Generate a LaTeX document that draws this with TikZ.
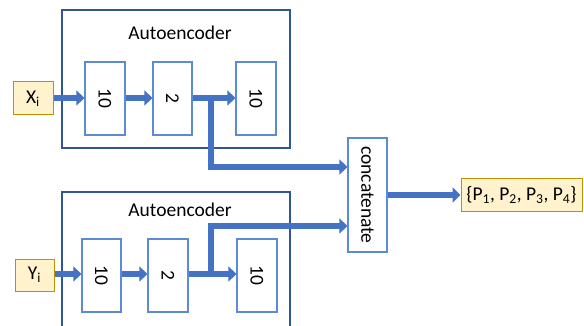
\documentclass[tikz,border=0pt]{standalone}
\usepackage{fontspec}
\setmainfont{Carlito}
\usetikzlibrary{arrows.meta}
\definecolor{arrowblue}{HTML}{4472C4}
\definecolor{outerblue}{HTML}{2F5597}
\definecolor{innerblue}{HTML}{5B8BD6}
\definecolor{yfill}{HTML}{FFF2CC}
\definecolor{ydraw}{HTML}{BF9000}
\tikzset{
  outerbox/.style={draw=outerblue, line width=1.3pt, fill=none, inner sep=0pt},
  layerbox/.style={draw=innerblue, line width=1.2pt, fill=white, minimum width=39pt, minimum height=73pt, inner sep=0pt, font=\fontsize{19.5}{23}\selectfont},
  iobox/.style={draw=ydraw, line width=1pt, fill=yfill, minimum height=32pt, inner sep=0pt, font=\fontsize{19.5}{23}\selectfont},
  lbl/.style={font=\fontsize{19.5}{23}\selectfont, inner sep=0pt},
  flow/.style={draw=arrowblue, line width=6pt, -{Triangle[length=8pt,width=15pt]}},
}
\begin{document}
\begin{tikzpicture}[x=1pt,y=-1pt]
\useasboundingbox (0,0) rectangle (584,326);
\clip (0,0) rectangle (584,326);
% top autoencoder
\node[outerbox, minimum width=228pt, minimum height=138pt] (ae1) at (176,79) {};
\node[lbl] (ae1t) at (180,33) {Autoencoder};
\node[layerbox, minimum width=40pt] (a1) at (105,98.5) {\rotatebox{-90}{10}};
\node[layerbox] (a2) at (172.5,98.5) {\rotatebox{-90}{2}};
\node[layerbox, minimum width=40pt] (a3) at (256,98.5) {\rotatebox{-90}{10}};
\node[iobox, minimum width=40pt, minimum height=33pt] (xi) at (33,98.5) {X\textsubscript{i}};
% bottom autoencoder
\node[outerbox, minimum width=228pt, minimum height=160pt] (ae2) at (176,272) {};
\node[lbl] (ae2t) at (180,210) {Autoencoder};
\node[layerbox] (b1) at (101.5,275.5) {\rotatebox{-90}{10}};
\node[layerbox, minimum width=40pt] (b2) at (168,275.5) {\rotatebox{-90}{2}};
\node[layerbox, minimum width=40pt] (b3) at (257,275.5) {\rotatebox{-90}{10}};
\node[iobox, minimum width=39pt] (yi) at (34.5,275) {Y\textsubscript{i}};
% concatenate and output
\node[layerbox, minimum width=39pt, minimum height=114pt] (cat) at (367.5,195) {\rotatebox{-90}{concatenate}};
\node[iobox, minimum width=121pt] (out) at (521.5,195) {\{P\textsubscript{1}, P\textsubscript{2}, P\textsubscript{3}, P\textsubscript{4}\}};
% junction coordinates
\coordinate (j1) at (211,100);
\coordinate (j2) at (211,274);
% top flow
\draw[flow] (xi.east |- 0,98) -- (a1.west |- 0,98);
\draw[flow] (a1.east |- 0,98) -- (a2.west |- 0,98);
\draw[flow] (a2.east |- 0,98) -- (a3.west |- 0,98);
\draw[flow] (j1) |- ([yshift=28pt]cat.west);
% bottom flow
\draw[flow] (yi.east |- 0,274) -- (b1.west |- 0,274);
\draw[flow] (b1.east |- 0,274) -- (b2.west |- 0,274);
\draw[flow] (b2.east |- 0,274) -- (b3.west |- 0,274);
\draw[flow] (j2) |- ([yshift=-31pt]cat.west);
% output
\draw[flow] (cat.east) -- (out.west);
\end{tikzpicture}
\end{document}
